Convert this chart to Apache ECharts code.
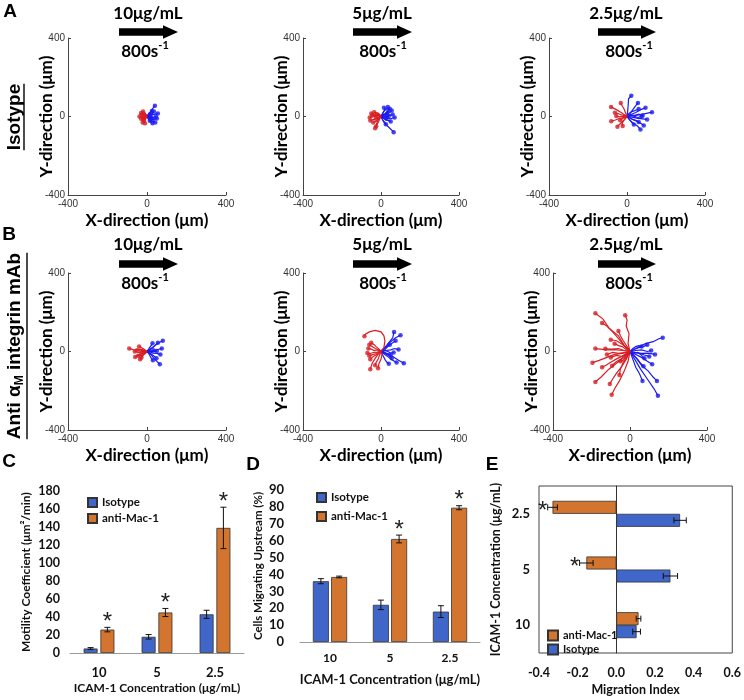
<!DOCTYPE html>
<html><head><meta charset="utf-8">
<script src="https://cdn.jsdelivr.net/npm/echarts@6/dist/echarts.min.js"></script>
<style>html,body{margin:0;padding:0;background:#fff}#c{width:744px;height:700px}</style>
</head><body><div id="c"></div>
<script>
// ---------- DATA ----------
const concLabels = ['10μg/mL', '5μg/mL', '2.5μg/mL'];
const trackTicks = [-400, 0, 400];
const rowLabels = ['Isotype', 'Anti α', 'M', ' integrin mAb'];

// Trajectories (μm), panel A = isotype, panel B = anti-αM
const A1_red = [
  [[0,0],[-8,5],[-15,3],[-22,10],[-30,18]],
  [[0,0],[-5,-6],[-12,-10],[-18,-20],[-22,-30]],
  [[0,0],[-6,4],[-10,12],[-18,15],[-28,8]],
  [[0,0],[-4,-3],[-10,-2],[-16,-8],[-30,-12]],
  [[0,0],[-3,8],[-8,14],[-12,20],[-20,25]],
  [[0,0],[-6,-10],[-8,-18],[-12,-26],[-10,-35]],
  [[0,0],[-8,2],[-16,-4],[-24,-2],[-38,0]],
  [[0,0],[-5,2],[-9,-4],[-14,-1],[-18,-6]],
  [[0,0],[-3,5],[-7,9],[-12,6],[-15,12]],
  [[0,0],[-4,-5],[-9,-8],[-12,-15],[-17,-18]]
];
const A1_blue = [
  [[0,0],[8,10],[15,20],[25,35],[40,55]],
  [[0,0],[10,-5],[22,-10],[35,-15],[50,-10]],
  [[0,0],[12,5],[25,8],[40,12],[55,15]],
  [[0,0],[6,-12],[12,-20],[20,-28],[28,-35]],
  [[0,0],[8,4],[18,0],[30,-5],[45,0]],
  [[0,0],[5,10],[10,18],[18,22],[25,28]],
  [[0,0],[10,-2],[18,-18],[30,-25],[42,-30]],
  [[0,0],[6,6],[14,14],[22,10],[35,25]],
  [[0,0],[4,-6],[12,-8],[20,-4],[30,-15]],
  [[0,0],[6,2],[12,-3],[18,2],[22,-6]],
  [[0,0],[5,6],[10,4],[16,10],[20,14]],
  [[0,0],[4,-4],[10,-10],[15,-14],[14,-22]]
];
const A2_red = [
  [[0,0],[-10,5],[-20,2],[-35,10],[-50,15]],
  [[0,0],[-8,-8],[-18,-15],[-25,-25],[-40,-30]],
  [[0,0],[-6,-12],[-12,-25],[-20,-40],[-30,-60]],
  [[0,0],[-12,4],[-25,8],[-40,0],[-58,-5]],
  [[0,0],[-5,8],[-12,15],[-22,18],[-35,22]],
  [[0,0],[-10,-5],[-22,-8],[-35,-15],[-55,-20]],
  [[0,0],[-6,-4],[-15,-20],[-22,-35],[-25,-50]],
  [[0,0],[-8,6],[-15,4],[-28,-2],[-45,5]],
  [[0,0],[-6,3],[-12,-3],[-20,-8],[-26,-12]],
  [[0,0],[-4,6],[-10,10],[-16,8],[-22,12]]
];
const A2_blue = [
  [[0,0],[10,8],[22,15],[35,25],[45,40]],
  [[0,0],[12,-4],[25,-2],[40,5],[60,10]],
  [[0,0],[8,15],[15,28],[28,38],[35,48]],
  [[0,0],[15,2],[30,-8],[48,-12],[70,-5]],
  [[0,0],[5,-10],[12,-22],[20,-30],[25,-40]],
  [[0,0],[10,-20],[18,-35],[40,-55],[65,-80]],
  [[0,0],[14,10],[30,12],[45,20],[55,30]],
  [[0,0],[8,-6],[20,-12],[35,-20],[50,-25]],
  [[0,0],[6,4],[15,0],[28,-3],[40,2]],
  [[0,0],[10,18],[18,30],[20,42],[15,45]],
  [[0,0],[8,3],[16,8],[24,6],[30,12]],
  [[0,0],[6,-5],[14,-8],[22,-15],[28,-12]],
  [[0,0],[10,12],[20,10],[28,22],[38,28]]
];
const A3_red = [
  [[0,0],[-15,10],[-30,20],[-55,35],[-82,49]],
  [[0,0],[-15,5],[-30,8],[-45,15],[-62,19]],
  [[0,0],[-8,20],[-15,38],[-25,55],[-32,69]],
  [[0,0],[-12,-15],[-25,-28],[-40,-42],[-49,-52]],
  [[0,0],[-10,-5],[-20,-8],[-28,-15],[-35,-19]],
  [[0,0],[-20,-6],[-40,-10],[-60,-18],[-81,-24]],
  [[0,0],[-10,-12],[-20,-25],[-25,-38],[-22,-48]],
  [[0,0],[-12,2],[-25,0],[-40,-2],[-55,3]]
];
const A3_blue = [
  [[0,0],[4,30],[6,60],[8,90],[22,106]],
  [[0,0],[15,15],[30,35],[45,55],[56,69]],
  [[0,0],[20,10],[45,20],[70,35],[95,44]],
  [[0,0],[30,5],[60,8],[95,15],[128,22]],
  [[0,0],[25,-3],[50,-8],[80,-12],[103,-15]],
  [[0,0],[15,-20],[35,-35],[55,-50],[69,-66]],
  [[0,0],[10,-12],[20,-25],[28,-35],[35,-41]],
  [[0,0],[20,-10],[45,-22],[70,-35],[86,-46]],
  [[0,0],[15,5],[35,2],[55,-5],[75,0]],
  [[0,0],[10,15],[25,25],[40,30],[60,38]],
  [[0,0],[12,-5],[28,-15],[45,-20],[60,-28]],
  [[0,0],[20,8],[40,5],[60,12],[80,5]]
];
const B1_red = [
  [[0,0],[-20,5],[-45,8],[-70,10],[-90,15]],
  [[0,0],[-15,-5],[-30,-12],[-45,-20],[-60,-28]],
  [[0,0],[-10,8],[-20,15],[-30,20],[-40,25]],
  [[0,0],[-12,-10],[-20,-20],[-30,-32],[-35,-40]],
  [[0,0],[-15,2],[-30,-2],[-45,-5],[-62,0]],
  [[0,0],[-8,-4],[-18,-8],[-25,-18],[-28,-30]],
  [[0,0],[-10,3],[-22,10],[-35,12],[-50,6]],
  [[0,0],[-6,-8],[-15,-15],[-28,-20],[-45,-22]],
  [[0,0],[-8,3],[-16,-2],[-22,4],[-30,-5]]
];
const B1_blue = [
  [[0,0],[20,15],[40,30],[60,45],[80,55]],
  [[0,0],[15,10],[30,20],[45,35],[55,45]],
  [[0,0],[20,-15],[35,-35],[50,-50],[65,-65]],
  [[0,0],[18,2],[35,5],[55,10],[75,15]],
  [[0,0],[12,-8],[25,-15],[38,-25],[48,-35]],
  [[0,0],[15,-2],[30,-8],[48,-10],[68,-15]],
  [[0,0],[8,12],[15,22],[22,32],[28,42]],
  [[0,0],[10,5],[22,2],[35,-2],[50,3]],
  [[0,0],[8,-10],[15,-22],[22,-35],[30,-45]],
  [[0,0],[8,-4],[16,2],[24,-4],[32,6]]
];
const B2_red = [
  [[0,0],[15,20],[20,55],[15,80],[0,100],[-30,108],[-60,100],[-80,88],[-85,78]],
  [[0,0],[-15,10],[-30,15],[-45,25],[-60,35]],
  [[0,0],[-20,-3],[-40,-5],[-55,-10],[-70,-8]],
  [[0,0],[-15,-15],[-30,-35],[-45,-60],[-55,-90]],
  [[0,0],[-8,-20],[-15,-40],[-25,-55],[-30,-70]],
  [[0,0],[-20,8],[-35,5],[-50,12],[-65,15]],
  [[0,0],[-10,-8],[-25,-18],[-40,-25],[-55,-40]],
  [[0,0],[-10,12],[-25,25],[-35,35],[-50,45]],
  [[0,0],[-12,-3],[-28,-12],[-40,-15],[-60,-22]],
  [[0,0],[5,-15],[0,-40],[-10,-60],[-15,-85]]
];
const B2_blue = [
  [[0,0],[20,20],[40,45],[60,70],[67,100]],
  [[0,0],[25,25],[50,50],[75,70],[100,83]],
  [[0,0],[20,10],[40,30],[60,45],[75,55]],
  [[0,0],[30,-10],[60,-25],[90,-45],[117,-60]],
  [[0,0],[20,-15],[40,-30],[60,-45],[80,-56]],
  [[0,0],[25,5],[50,8],[70,15],[90,10]],
  [[0,0],[15,-5],[30,-15],[45,-25],[55,-35]],
  [[0,0],[10,-20],[20,-40],[30,-55],[40,-62]],
  [[0,0],[18,5],[35,0],[50,-8],[65,-5]],
  [[0,0],[10,12],[22,20],[35,28],[45,35]],
  [[0,0],[12,-2],[25,-8],[38,-12],[50,-18]]
];
const B3_red = [
  [[0,0],[-30,30],[-60,80],[-110,120],[-140,165],[-180,195]],
  [[0,0],[-25,25],[-55,60],[-90,100],[-120,130],[-145,145]],
  [[0,0],[-10,40],[-5,90],[-20,130],[-15,160],[-25,185]],
  [[0,0],[-40,-10],[-80,-15],[-120,-30],[-160,-45],[-195,-57]],
  [[0,0],[-30,-30],[-70,-60],[-110,-90],[-150,-130],[-180,-155]],
  [[0,0],[-20,-40],[-45,-80],[-70,-110],[-90,-140],[-105,-165]],
  [[0,0],[-10,-50],[-30,-100],[-55,-150],[-80,-190],[-95,-220]],
  [[0,0],[-40,5],[-80,10],[-120,8],[-155,12],[-180,15]],
  [[0,0],[-30,-20],[-65,-35],[-100,-55],[-125,-70],[-145,-80]],
  [[0,0],[-30,5],[-60,15],[-95,12],[-128,14]],
  [[0,0],[-25,-20],[-50,-40],[-75,-55],[-93,-72]],
  [[0,0],[-20,20],[-45,40],[-70,55],[-100,60]],
  [[0,0],[-20,-10],[-45,-25],[-70,-20],[-100,-30]],
  [[0,0],[-15,25],[-35,55],[-50,80],[-60,105]],
  [[0,0],[-30,-5],[-60,-10],[-90,-5],[-120,-15]],
  [[0,0],[-15,-25],[-35,-55],[-50,-90],[-55,-120]],
  [[0,0],[-20,10],[-40,25],[-60,30],[-80,40]],
  [[0,0],[-10,-15],[-25,-30],[-35,-45],[-50,-50]]
];
const B3_blue = [
  [[0,0],[40,20],[80,40],[120,50],[150,65],[170,70]],
  [[0,0],[30,-5],[60,-10],[95,-8],[130,-15]],
  [[0,0],[30,-15],[60,-30],[90,-50],[115,-65]],
  [[0,0],[15,-40],[30,-80],[50,-115],[65,-150]],
  [[0,0],[30,-30],[60,-70],[95,-100],[120,-130],[140,-150]],
  [[0,0],[25,-40],[55,-90],[90,-140],[125,-190],[145,-225]],
  [[0,0],[25,-5],[50,-10],[75,-18],[100,-25]],
  [[0,0],[20,10],[45,20],[70,25],[90,35]],
  [[0,0],[20,-20],[40,-40],[55,-60],[70,-75]],
  [[0,0],[30,5],[60,8],[90,0],[110,5]],
  [[0,0],[15,15],[30,25],[45,30],[60,25]],
  [[0,0],[20,-10],[40,-5],[55,-15],[75,-35]]
];

// Bar charts
const categories = ['10', '5', '2.5'];
const motIso = [5, 18, 43];
const motIsoErr = [1, 2.5, 4.5];
const motAnti = [26, 45, 139];
const motAntiErr = [2.5, 4.5, 23];
const motSig = [1, 1, 1];
const upIso = [36, 22, 18];
const upIsoErr = [1.5, 2.8, 3.5];
const upAnti = [38.5, 61, 79.5];
const upAntiErr = [0.5, 2.3, 1.2];
const upSig = [0, 1, 1];
const miIso = [0.105, 0.28, 0.33];
const miIsoErr = [0.02, 0.037, 0.032];
const miAnti = [0.115, -0.155, -0.33];
const miAntiErr = [0.012, 0.035, 0.025];
const miSig = [0, 1, 1];

// ---------- STYLE ----------
const F = 'Lato, "Open Sans", sans-serif';
const FA = '"Liberation Sans", Arial, sans-serif';
const RED_T = '#D71E23', BLUE_T = '#1A1AF0';
const BLUE = '#3F66C8', ORANGE = '#D4752F';

const scatterGrids = [
  {left: 68, top: 38, width: 158, height: 157},
  {left: 303, top: 38, width: 156, height: 157},
  {left: 549, top: 38, width: 156, height: 157},
  {left: 68, top: 273, width: 158, height: 157},
  {left: 303, top: 273, width: 156, height: 157},
  {left: 553, top: 273, width: 154, height: 157}
];
const panels = [
  [A1_red, A1_blue], [A2_red, A2_blue], [A3_red, A3_blue],
  [B1_red, B1_blue], [B2_red, B2_blue], [B3_red, B3_blue]
];

const grids = scatterGrids.concat([
  {left: 70, top: 491, width: 174, height: 162},
  {left: 300, top: 490, width: 180, height: 152},
  {left: 539, top: 486, width: 195, height: 167, show: true, borderColor: '#444', borderWidth: 1}
]);

const xAxes = [], yAxes = [], series = [];
scatterGrids.forEach((g, i) => {
  xAxes.push({gridIndex: i, type: 'value', min: trackTicks[0], max: trackTicks[2], interval: 400,
    axisLine: {onZero: false, lineStyle: {color: '#444'}},
    axisTick: {inside: true, length: 3, lineStyle: {color: '#444'}},
    splitLine: {show: false},
    axisLabel: {fontSize: 10, color: '#333', margin: 4, fontFamily: FA},
    name: 'X-direction (μm)', nameLocation: 'middle', nameGap: 17, nameMoveOverlap: false,
    nameTextStyle: {fontSize: 17, fontWeight: 'bold', fontFamily: F, color: '#000'}});
  yAxes.push({gridIndex: i, type: 'value', min: trackTicks[0], max: trackTicks[2], interval: 400,
    axisLine: {onZero: false, lineStyle: {color: '#444'}},
    axisTick: {inside: true, length: 3, lineStyle: {color: '#444'}},
    splitLine: {show: false},
    axisLabel: {fontSize: 10, color: '#333', margin: 3, fontFamily: FA},
    name: 'Y-direction (μm)', nameLocation: 'middle', nameGap: 13, nameMoveOverlap: false,
    nameTextStyle: {fontSize: 17, fontWeight: 'bold', fontFamily: F, color: '#000'}});
  const [red, blue] = panels[i];
  [[blue, BLUE_T], [red, RED_T]].forEach(([tracks, col], k) => {
    series.push({type: 'lines', coordinateSystem: 'cartesian2d', xAxisIndex: i, yAxisIndex: i,
      polyline: true, silent: true, z: 2 + k,
      data: tracks.map(t => ({coords: t})),
      lineStyle: {color: col, width: 1.2, opacity: 1}});
    series.push({type: 'scatter', xAxisIndex: i, yAxisIndex: i, silent: true, z: 3 + k,
      symbolSize: 4.5, itemStyle: {color: col},
      data: tracks.map(t => t[t.length - 1])});
  });
});

const boldLbl = (fs) => ({fontSize: fs, fontWeight: 'bold', color: '#111', fontFamily: F});

// C
xAxes.push({gridIndex: 6, type: 'category', data: categories,
  axisLine: {lineStyle: {color: '#999'}}, axisTick: {show: false},
  axisLabel: Object.assign({margin: 13}, boldLbl(13)),
  name: 'ICAM-1 Concentration (μg/mL)', nameLocation: 'middle', nameGap: 29, nameMoveOverlap: false,
  nameTextStyle: boldLbl(12)});
yAxes.push({gridIndex: 6, type: 'value', min: 0, max: 180, interval: 20,
  axisLine: {show: false}, axisTick: {show: false}, splitLine: {show: false},
  axisLabel: Object.assign({margin: 10}, boldLbl(12.5)),
  name: 'Motility Coefficient (μm²/min)', nameLocation: 'middle', nameGap: 38, nameMoveOverlap: false,
  nameTextStyle: boldLbl(12)});
// D
xAxes.push({gridIndex: 7, type: 'category', data: categories,
  axisLine: {lineStyle: {color: '#999'}}, axisTick: {show: false},
  axisLabel: Object.assign({margin: 10}, boldLbl(12)),
  name: 'ICAM-1 Concentration (μg/mL)', nameLocation: 'middle', nameGap: 31, nameMoveOverlap: false,
  nameTextStyle: boldLbl(13)});
yAxes.push({gridIndex: 7, type: 'value', min: 0, max: 90, interval: 10,
  axisLine: {show: false}, axisTick: {show: false}, splitLine: {show: false},
  axisLabel: Object.assign({margin: 16}, boldLbl(13)),
  name: 'Cells Migrating Upstream (%)', nameLocation: 'middle', nameGap: 36, nameMoveOverlap: false,
  nameTextStyle: boldLbl(11.5)});
// E
xAxes.push({gridIndex: 8, type: 'value', min: -0.4, max: 0.6, interval: 0.2,
  axisLine: {show: false}, axisTick: {inside: true, length: 4, lineStyle: {color: '#333'}},
  splitLine: {show: false},
  axisLabel: Object.assign({margin: 13, formatter: v => v.toFixed(1)}, boldLbl(12.5)),
  name: 'Migration Index', nameLocation: 'middle', nameGap: 30, nameMoveOverlap: false, nameTextStyle: boldLbl(12.5)});
yAxes.push({gridIndex: 8, type: 'category', data: categories,
  axisLine: {onZero: true, lineStyle: {color: '#333'}}, axisTick: {show: false},
  axisLabel: Object.assign({margin: 9}, boldLbl(13)),
  name: 'ICAM-1 Concentration (μg/mL)', nameLocation: 'middle', nameGap: 37, nameMoveOverlap: false,
  nameTextStyle: boldLbl(12.5)});

const barStyle = c => ({color: c, borderColor: '#333', borderWidth: 0.8});

function errSeries(gi, vals, errs, sig, offset, horizontal) {
  return {type: 'custom', xAxisIndex: gi, yAxisIndex: gi, silent: true, z: 5,
    encode: horizontal ? {x: 1, y: 0} : {x: 0, y: 1},
    data: vals.map((v, i) => [i, v, errs[i], sig[i]]),
    renderItem: (params, api) => {
      const i = api.value(0), v = api.value(1), e = api.value(2), s = api.value(3);
      const ch = [];
      const ls = {stroke: '#111', lineWidth: 1};
      if (!horizontal) {
        const p1 = api.coord([i, v - e]), p2 = api.coord([i, v + e]);
        const x = p1[0] + offset;
        ch.push({type: 'line', shape: {x1: x, y1: p1[1], x2: x, y2: p2[1]}, style: ls});
        ch.push({type: 'line', shape: {x1: x - 3, y1: p1[1], x2: x + 3, y2: p1[1]}, style: ls});
        ch.push({type: 'line', shape: {x1: x - 3, y1: p2[1], x2: x + 3, y2: p2[1]}, style: ls});
        if (s) ch.push({type: 'text', x: x, y: p2[1] - 5,
          style: {text: '*', fontSize: 24, fontFamily: FA, fill: '#222', align: 'center', verticalAlign: 'middle'}});
      } else {
        const p1 = api.coord([v - e, i]), p2 = api.coord([v + e, i]);
        const y = p1[1] + offset;
        ch.push({type: 'line', shape: {x1: p1[0], y1: y, x2: p2[0], y2: y}, style: ls});
        ch.push({type: 'line', shape: {x1: p1[0], y1: y - 3, x2: p1[0], y2: y + 3}, style: ls});
        ch.push({type: 'line', shape: {x1: p2[0], y1: y - 3, x2: p2[0], y2: y + 3}, style: ls});
        if (s) ch.push({type: 'text', x: p1[0] - 5, y: y + 4,
          style: {text: '*', fontSize: 24, fontFamily: FA, fill: '#222', align: 'center', verticalAlign: 'middle'}});
      }
      return {type: 'group', children: ch};
    }};
}

// C bars
series.push({type: 'bar', name: 'Isotype', xAxisIndex: 6, yAxisIndex: 6, data: motIso, barWidth: 14, barGap: '20%', itemStyle: barStyle(BLUE)});
series.push({type: 'bar', name: 'anti-Mac-1', xAxisIndex: 6, yAxisIndex: 6, data: motAnti, barWidth: 14, barGap: '20%', itemStyle: barStyle(ORANGE)});
series.push(errSeries(6, motIso, motIsoErr, [0,0,0], -8.4, false));
series.push(errSeries(6, motAnti, motAntiErr, motSig, 8.4, false));
// D bars
series.push({type: 'bar', name: 'Isotype', xAxisIndex: 7, yAxisIndex: 7, data: upIso, barWidth: 16, barGap: '14%', itemStyle: barStyle(BLUE)});
series.push({type: 'bar', name: 'anti-Mac-1', xAxisIndex: 7, yAxisIndex: 7, data: upAnti, barWidth: 16, barGap: '14%', itemStyle: barStyle(ORANGE)});
series.push(errSeries(7, upIso, upIsoErr, [0,0,0], -9.1, false));
series.push(errSeries(7, upAnti, upAntiErr, upSig, 9.1, false));
// E bars
series.push({type: 'bar', name: 'anti-Mac-1', xAxisIndex: 8, yAxisIndex: 8, data: miAnti, barWidth: 13, barGap: '0%', itemStyle: barStyle(ORANGE)});
series.push({type: 'bar', name: 'Isotype', xAxisIndex: 8, yAxisIndex: 8, data: miIso, barWidth: 13, barGap: '0%', itemStyle: barStyle(BLUE)});
series.push(errSeries(8, miAnti, miAntiErr, miSig, -6.5, true));
series.push(errSeries(8, miIso, miIsoErr, [0,0,0], 6.5, true));

const legendText = {fontSize: 11.5, fontWeight: 'bold', fontFamily: F, color: '#111', lineHeight: 13};
const legends = [
  {data: ['Isotype', 'anti-Mac-1'], orient: 'vertical', left: 82, top: 491, itemGap: 3, itemWidth: 9, itemHeight: 9, icon: 'rect', selectedMode: false, textStyle: legendText},
  {data: ['Isotype', 'anti-Mac-1'], orient: 'vertical', left: 311, top: 486, itemGap: 6, itemWidth: 9, itemHeight: 9, icon: 'rect', selectedMode: false, textStyle: legendText},
  {data: ['anti-Mac-1', 'Isotype'], orient: 'vertical', left: 542, top: 624, itemGap: 1, itemWidth: 10, itemHeight: 10, icon: 'rect', selectedMode: false, textStyle: Object.assign({}, legendText, {fontSize: 11})}
];

// ---------- GRAPHIC DECORATIONS ----------
function tw(text, font) { const c = document.createElement('canvas').getContext('2d'); c.font = font; return c.measureText(text).width; }
function arrow(x0, x1, yc) {
  const hl = 15, sh = 3.7, hh = 6.8;
  return {type: 'polygon', shape: {points: [[x0, yc - sh], [x1 - hl, yc - sh], [x1 - hl, yc - hh], [x1, yc], [x1 - hl, yc + hh], [x1 - hl, yc + sh], [x0, yc + sh]]}, style: {fill: '#000'}};
}
const conc = (t, x, y) => ({type: 'text', x, y, style: {text: t, font: 'bold 17px ' + F, fill: '#000', align: 'center', verticalAlign: 'middle'}});
const shear = (x, y) => ({type: 'text', x, y, style: {text: '{n|800s}{s|-1}', align: 'center', verticalAlign: 'middle',
  rich: {n: {fontSize: 17, fontWeight: 'bold', fontFamily: F, fill: '#000', lineHeight: 20, verticalAlign: 'bottom'},
         s: {fontSize: 11, fontWeight: 'bold', fontFamily: F, fill: '#000', lineHeight: 12, verticalAlign: 'top'}}}});
const letter = (t, x, y) => ({type: 'text', x, y, style: {text: t, font: 'bold 19px ' + FA, fill: '#000', align: 'center', verticalAlign: 'middle'}});

const graphics = [];
[['A', 10, 12], ['B', 9, 235], ['C', 9, 462], ['D', 253, 465], ['E', 492, 465]].forEach(a => graphics.push(letter(...a)));
const colX = [[148, 119, 178, 145], [382, 353, 412, 383], [626, 598, 656, 629]];
[[14, 32, 50], [245, 264, 282]].forEach(([ty, ay, sy]) => {
  colX.forEach(([cx, a0, a1, sx], j) => {
    graphics.push(conc(concLabels[j], cx, ty));
    graphics.push(arrow(a0, a1, ay));
    graphics.push(shear(sx, sy));
  });
});
// Row labels (rotated, underlined)
const isoW = tw(rowLabels[0], 'bold 19px "Liberation Sans"');
graphics.push({type: 'text', x: 15, y: 117, rotation: Math.PI / 2,
  style: {text: rowLabels[0], font: 'bold 19px ' + FA, fill: '#000', align: 'center', verticalAlign: 'middle'}});
graphics.push({type: 'line', shape: {x1: 24, y1: 117 - isoW / 2, x2: 24, y2: 117 + isoW / 2}, style: {stroke: '#000', lineWidth: 1.4}});
const antiW = tw(rowLabels[1], 'bold 19px "Liberation Sans"') + tw(rowLabels[2], 'bold 12px "Liberation Sans"') + tw(rowLabels[3], 'bold 19px "Liberation Sans"');
graphics.push({type: 'text', x: 15, y: 346, rotation: Math.PI / 2,
  style: {text: '{a|' + rowLabels[1] + '}{m|' + rowLabels[2] + '}{a|' + rowLabels[3] + '}', align: 'center', verticalAlign: 'middle',
    rich: {a: {fontSize: 19, fontWeight: 'bold', fontFamily: FA, fill: '#000', lineHeight: 22, verticalAlign: 'middle'},
           m: {fontSize: 12, fontWeight: 'bold', fontFamily: FA, fill: '#000', lineHeight: 12, verticalAlign: 'bottom'}}}});
graphics.push({type: 'line', shape: {x1: 27, y1: 346 - antiW / 2, x2: 27, y2: 346 + antiW / 2}, style: {stroke: '#000', lineWidth: 1.4}});

const chart = echarts.init(document.getElementById('c'), null, {renderer: 'canvas'});
chart.setOption({
  animation: false,
  backgroundColor: '#fff',
  textStyle: {fontFamily: F},
  grid: grids,
  xAxis: xAxes,
  yAxis: yAxes,
  legend: legends,
  series: series,
  graphic: graphics
});
</script>
</body></html>
